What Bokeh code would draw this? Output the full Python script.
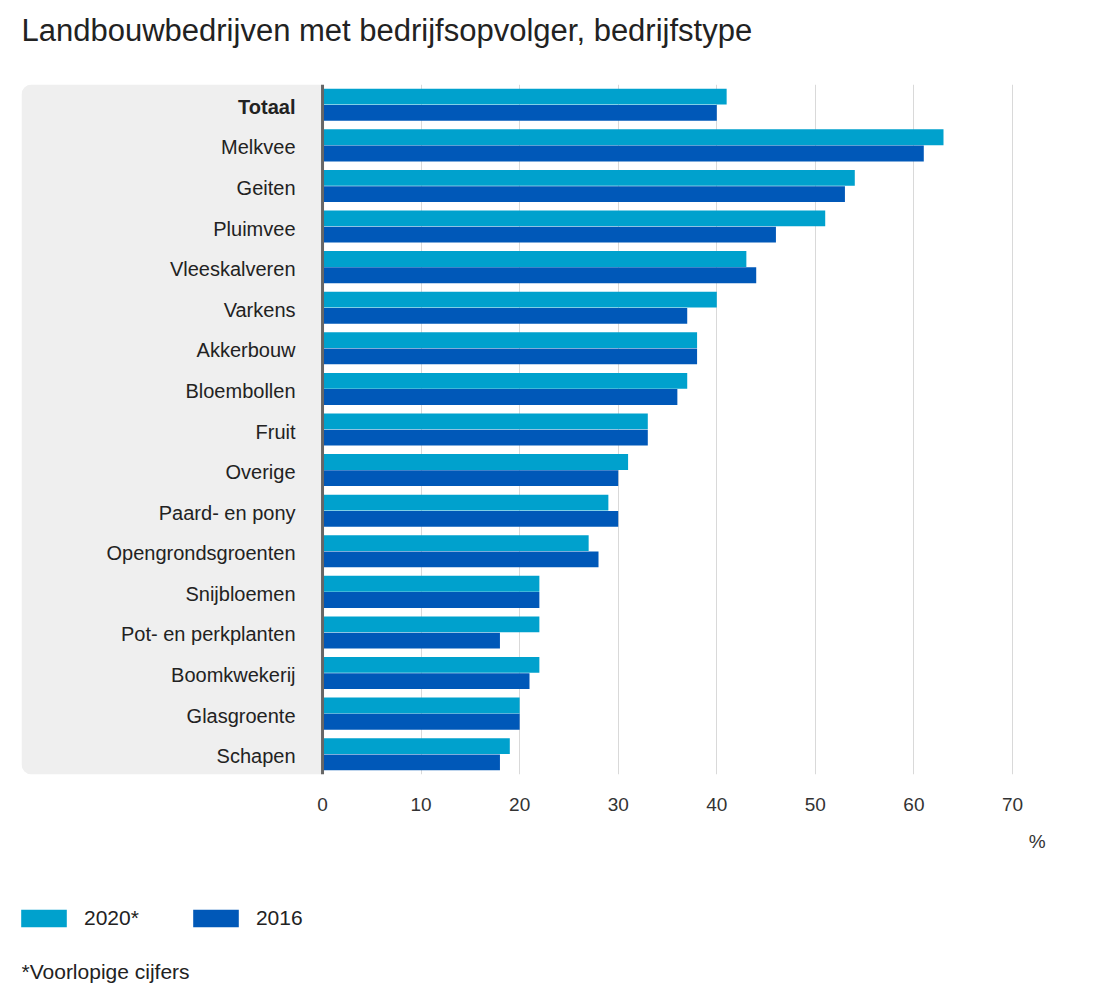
from bokeh.plotting import figure
from bokeh.layouts import column
from bokeh.models import (ColumnDataSource, FactorRange, Range1d, FixedTicker, BoxAnnotation,
                          Span, Label, Legend, LegendItem)
from bokeh.transform import dodge
from bokeh.core.properties import value
from bokeh.embed import file_html
from bokeh.resources import INLINE

categories = ["Totaal", "Melkvee", "Geiten", "Pluimvee", "Vleeskalveren", "Varkens",
              "Akkerbouw", "Bloembollen", "Fruit", "Overige", "Paard- en pony",
              "Opengrondsgroenten", "Snijbloemen", "Pot- en perkplanten", "Boomkwekerij",
              "Glasgroente", "Schapen"]
values_2020 = [41, 63, 54, 51, 43, 40, 38, 37, 33, 31, 29, 27, 22, 22, 22, 20, 19]
values_2016 = [40, 61, 53, 46, 44, 37, 38, 36, 33, 30, 30, 28, 22, 18, 21, 20, 18]
x_ticks = [0, 10, 20, 30, 40, 50, 60, 70]
series_names = ["2020*", "2016"]
colors = ["#00a1cd", "#0058b8"]
FONT = "Liberation Sans"
TITLE = "Landbouwbedrijven met bedrijfsopvolger, bedrijfstype"
FOOTNOTE = "*Voorlopige cijfers"
UNIT = "%"

X0, X1 = -30.54, 73.45

src = ColumnDataSource(dict(
    cat=categories, v2020=values_2020, v2016=values_2016,
    style=["bold"] + ["normal"] * (len(categories) - 1),
))

# header strip with the title
p0 = figure(width=1079, height=70, output_backend="svg", toolbar_location=None,
            x_range=Range1d(X0, X1), y_range=Range1d(0, 70),
            min_border_left=21, min_border_right=33, min_border_top=0, min_border_bottom=0)
p0.outline_line_color = None
p0.axis.visible = False
p0.grid.visible = False
p0.add_layout(Label(x=X0, y=40, text=TITLE, text_align="left", text_baseline="middle",
                    text_font=FONT, text_font_size="31px", text_color="#222222"))

# main chart
p = figure(width=1079, height=755, output_backend="svg", toolbar_location=None,
           y_range=FactorRange(*categories[::-1], range_padding=0),
           x_range=Range1d(X0, X1),
           min_border_left=21, min_border_right=33, min_border_top=14, min_border_bottom=51)
p.outline_line_color = None

panel = BoxAnnotation(left=X0, right=0, fill_color="#efefef", fill_alpha=1,
                      line_color=None, level="underlay", border_radius=(10, 0, 0, 10))
p.add_layout(panel)

r1 = p.hbar(y=dodge("cat", 0.2, range=p.y_range), right="v2020", left=0, height=0.39,
            source=src, fill_color=colors[0], line_color=None)
r2 = p.hbar(y=dodge("cat", -0.2, range=p.y_range), right="v2016", left=0, height=0.39,
            source=src, fill_color=colors[1], line_color=None)

p.text(x=0, y="cat", text="cat", source=src, x_offset=-27, y_offset=2, text_align="right",
       text_baseline="middle", text_font=value(FONT), text_font_size="20px",
       text_color="#222222", text_font_style="style")

p.add_layout(Span(location=0, dimension="height", line_color="#666666", line_width=3))

p.xaxis.ticker = FixedTicker(ticks=x_ticks)
p.xaxis.axis_line_color = None
p.xaxis.major_tick_line_color = None
p.xaxis.minor_tick_line_color = None
p.xaxis.major_label_text_font = FONT
p.xaxis.major_label_text_font_size = "19px"
p.xaxis.major_label_text_color = "#333333"
p.xaxis.major_label_standoff = 17
p.yaxis.visible = False
p.xgrid.ticker = FixedTicker(ticks=x_ticks[1:])
p.xgrid.grid_line_color = "#d9d9d9"
p.ygrid.grid_line_color = None

# lower strip: unit, legend and footnote
p2 = figure(width=1079, height=160, output_backend="svg", toolbar_location=None,
            x_range=Range1d(X0, X1), y_range=Range1d(0, 160),
            min_border_left=21, min_border_right=33, min_border_top=0, min_border_bottom=0)
p2.outline_line_color = None
p2.axis.visible = False
p2.grid.visible = False

k1 = p2.hbar(y=0, right="v2020", left=0, height=1, source=src,
             fill_color=colors[0], line_color=None, visible=False)
k2 = p2.hbar(y=0, right="v2016", left=0, height=1, source=src,
             fill_color=colors[1], line_color=None, visible=False)

p2.add_layout(Label(x=72.5, y=144, text=UNIT, text_align="center",
                    text_baseline="middle", text_font=FONT, text_font_size="19px",
                    text_color="#333333"))
p2.add_layout(Label(x=X0, y=14, text=FOOTNOTE,
                    text_align="left", text_baseline="middle", text_font=FONT,
                    text_font_size="21px", text_color="#222222"))

legend = Legend(items=[LegendItem(label=series_names[0], renderers=[k1]),
                       LegendItem(label=series_names[1], renderers=[k2])],
                location=(-6, 55), orientation="horizontal",
                glyph_width=57, glyph_height=22, label_standoff=12, spacing=48,
                padding=0, margin=0, border_line_color=None, background_fill_alpha=0,
                inactive_fill_alpha=0,
                label_text_font=FONT, label_text_font_size="21px", label_text_color="#222222",
                label_height=18)
p2.add_layout(legend, "center")

layout = column(p0, p, p2, spacing=0)
open("out.html", "w").write(file_html(layout, INLINE))
